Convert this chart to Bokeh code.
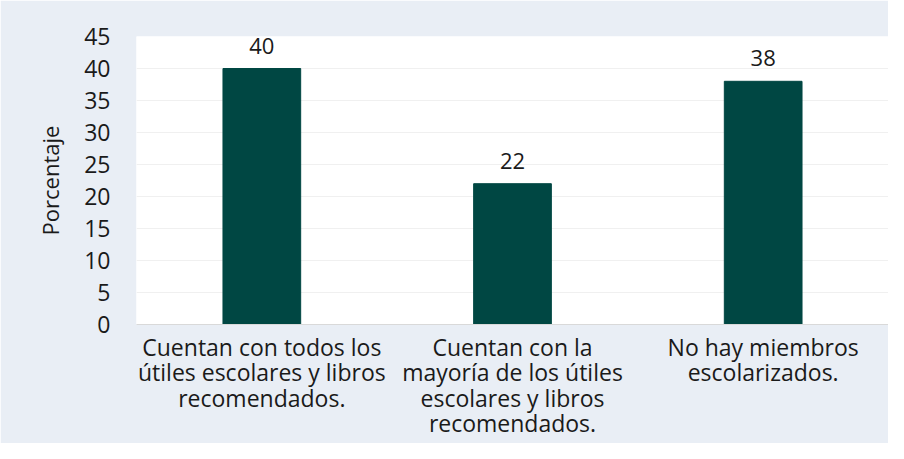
from bokeh.plotting import figure
from bokeh.models import ColumnDataSource, FactorRange, Range1d, SingleIntervalTicker
from bokeh.core.properties import value
from bokeh.embed import file_html
from bokeh.resources import INLINE

categories = [
    "Cuentan con todos los\nútiles escolares y libros\nrecomendados.",
    "Cuentan con la\nmayoría de los útiles\nescolares y libros\nrecomendados.",
    "No hay miembros\nescolarizados.",
]
values = [40, 22, 38]
y_label = "Porcentaje"

FONT = "Open Sans"
FS = "23px"
TXT = "#1a1a1a"
BAR = "#004743"
BG = "#e9eef5"

src = ColumnDataSource(dict(cat=categories, val=values, lab=[str(v) for v in values]))

p = figure(
    x_range=FactorRange(*categories),
    y_range=Range1d(0, 45),
    width=888, height=443,
    output_backend="svg", toolbar_location=None,
    min_border_left=136, min_border_top=36, min_border_right=0, min_border_bottom=119,
)
p.border_fill_color = BG
p.background_fill_color = "white"
p.outline_line_color = None

p.vbar(x="cat", top="val", width=0.31, source=src, fill_color=BAR, line_color=BAR)
p.text(x="cat", y="val", text="lab", source=src, text_align="center", text_baseline="bottom",
       y_offset=-15, text_font=value(FONT), text_font_size="22px", text_color=TXT)

p.yaxis.ticker = SingleIntervalTicker(interval=5)
p.yaxis.axis_line_color = None
p.yaxis.major_tick_line_color = None
p.yaxis.minor_tick_line_color = None
p.yaxis.major_label_standoff = 20
p.yaxis.major_label_text_font = FONT
p.yaxis.major_label_text_font_size = FS
p.yaxis.major_label_text_color = TXT
p.yaxis.axis_label = y_label
p.yaxis.axis_label_text_font = FONT
p.yaxis.axis_label_text_font_size = "22px"
p.yaxis.axis_label_text_font_style = "normal"
p.yaxis.axis_label_text_color = TXT
p.yaxis.axis_label_standoff = 16

p.xaxis.axis_line_color = "#d9d9d9"
p.xaxis.major_tick_line_color = None
p.xaxis.minor_tick_line_color = None
p.xaxis.major_tick_out = 0
p.xaxis.major_tick_in = 0
p.xaxis.major_label_standoff = 6
p.xaxis.major_label_text_font = FONT
p.xaxis.major_label_text_font_size = FS
p.xaxis.major_label_text_color = TXT
p.xaxis.major_label_text_align = "center"
p.xaxis.major_label_text_line_height = 0.8

p.xgrid.grid_line_color = None
p.ygrid.grid_line_color = "#f0f0f0"

open("out.html", "w").write(file_html(p, INLINE))
